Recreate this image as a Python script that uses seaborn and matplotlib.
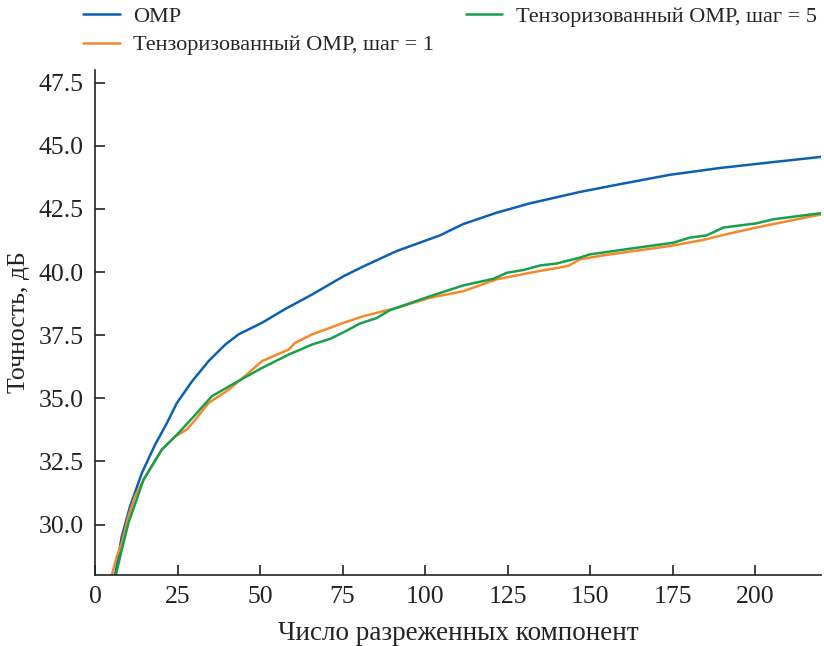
import matplotlib
matplotlib.use("Agg")
import matplotlib.pyplot as plt
import seaborn as sns
import pandas as pd
import numpy as np

# OMP
x_omp = [6.1, 8.1, 10.6, 14.2, 18.2, 21.8, 24.8, 29.4, 34.4, 39.5, 43.5, 50.6, 57.7, 65.8, 75.4,
         81.3, 91.4, 104.5, 111.6, 121.7, 131.8, 146.9, 159.1, 174.2, 189.4, 204.5, 220]
y_omp = [28.0, 29.52, 30.71, 32.04, 33.16, 34.02, 34.81, 35.67, 36.47, 37.13, 37.53, 37.99, 38.54, 39.11, 39.84,
         40.22, 40.83, 41.45, 41.9, 42.35, 42.72, 43.17, 43.48, 43.85, 44.12, 44.34, 44.56]

# Тензоризованный OMP, шаг = 1
x_t1 = [5.1, 6.6, 8.1, 10.1, 12.1, 14.7, 18.7, 20.2, 24.3, 27.8, 30.4, 34.4, 40.5, 46.6, 50.6, 58.7, 60.7,
        65.8, 75.4, 81.3, 91.4, 101.5, 111.6, 121.7, 131.8, 143.4, 146.9, 154.0, 174.2, 184.3, 192.4, 202.5, 220]
y_t1 = [28.0, 28.73, 29.26, 30.32, 31.11, 31.77, 32.63, 32.96, 33.49, 33.76, 34.15, 34.81, 35.34, 36.01, 36.47, 36.93, 37.20,
        37.53, 37.99, 38.25, 38.58, 38.98, 39.24, 39.71, 39.97, 40.24, 40.50, 40.66, 41.03, 41.27, 41.53, 41.82, 42.28]

# Тензоризованный OMP, шаг = 5
x_t5 = [6.3, 8.1, 10.1, 14.7, 20.2, 25.3, 30.4, 35.4, 41.5, 50.6, 58.7, 65.8, 71.2, 75.4, 80.3, 85.4, 89.4,
        101.5, 111.6, 120.7, 124.8, 129.8, 134.9, 140.0, 146.9, 150.0, 164.1, 175.2, 180.2, 185.3, 190.4, 200.5, 205.6, 220]
y_t5 = [28.0, 28.99, 30.05, 31.77, 32.96, 33.62, 34.35, 35.08, 35.54, 36.20, 36.73, 37.13, 37.35, 37.62, 37.96, 38.18, 38.49,
        39.04, 39.47, 39.73, 39.97, 40.08, 40.26, 40.34, 40.57, 40.70, 40.96, 41.16, 41.36, 41.45, 41.76, 41.93, 42.09, 42.33]

labels = ["OMP", "Тензоризованный OMP, шаг = 1", "Тензоризованный OMP, шаг = 5"]
colors = ["#0d5fb3", "#f5882a", "#17a04b"]
xticks = [0, 25, 50, 75, 100, 125, 150, 175, 200]
yticks = [30.0, 32.5, 35.0, 37.5, 40.0, 42.5, 45.0, 47.5]

df = pd.concat([
    pd.DataFrame({"x": x_omp, "y": y_omp, "method": labels[0]}),
    pd.DataFrame({"x": x_t1, "y": y_t1, "method": labels[1]}),
    pd.DataFrame({"x": x_t5, "y": y_t5, "method": labels[2]}),
], ignore_index=True)

sns.set_theme(style="ticks")
plt.rcParams["font.family"] = ["Liberation Serif", "DejaVu Serif"]
plt.rcParams["xtick.direction"] = "in"
plt.rcParams["ytick.direction"] = "in"

fig = plt.figure(figsize=(8.24, 6.46), dpi=100)
ax = fig.add_axes([0.1153, 0.1099, 0.8811, 0.7817])

sns.lineplot(data=df, x="x", y="y", hue="method", palette=dict(zip(labels, colors)),
             ax=ax, linewidth=1.8, sort=True, estimator=None)

ax.set_xlim(0, 220)
ax.set_ylim(28, 48)
ax.set_xticks(xticks)
ax.set_xticklabels([str(t) for t in xticks])
ax.set_yticks(yticks)
ax.set_yticklabels([f"{t:.1f}" for t in yticks])
ax.tick_params(axis="both", labelsize=18.5, length=7, width=1.2, color="#222222", labelcolor="#222222", pad=8)
for s in ["top", "right"]:
    ax.spines[s].set_visible(False)
for s in ["left", "bottom"]:
    ax.spines[s].set_linewidth(1.2)
    ax.spines[s].set_color("#222222")

ax.set_xlabel("Число разреженных компонент", fontsize=19.5, color="#222222", labelpad=9)
ax.set_ylabel("Точность, дБ", fontsize=18.5, color="#222222", labelpad=6)

handles, labs = ax.get_legend_handles_labels()
if ax.get_legend():
    ax.get_legend().remove()
leg = fig.legend(handles, labs, loc="upper left", bbox_to_anchor=(0.082, 1.014), ncol=2,
                 frameon=False, fontsize=16, handlelength=1.65, columnspacing=1.42,
                 labelspacing=0.35, handletextpad=0.6, borderpad=0.2)

fig.savefig("out.png", dpi=100)
